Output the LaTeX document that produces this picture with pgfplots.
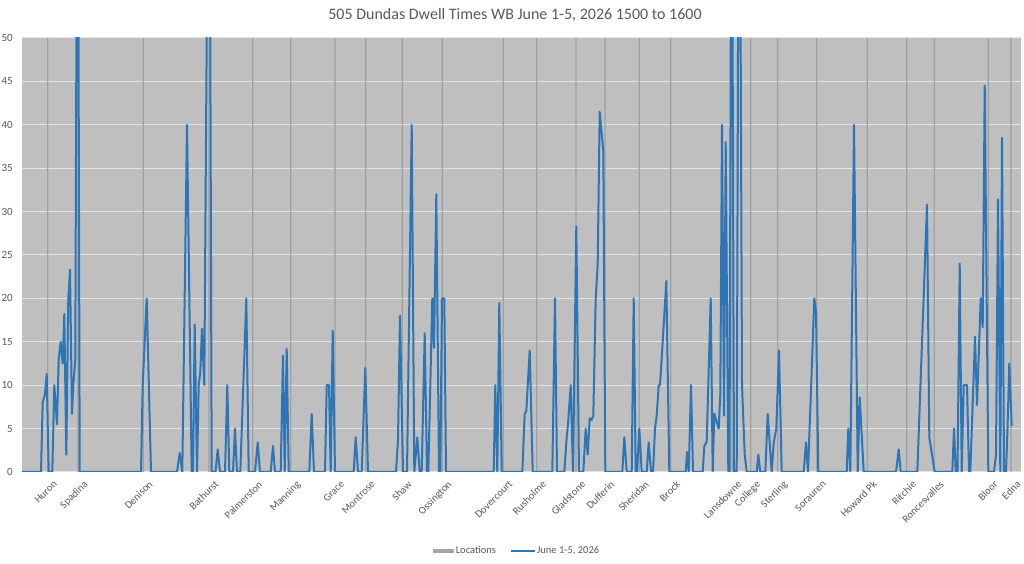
\documentclass[border=0pt]{standalone}
\usepackage{fontspec}
\setmainfont{Carlito}
\usepackage{pgfplots}
\pgfplotsset{compat=1.18}
\definecolor{bgc}{HTML}{BFBFBF}
\definecolor{gridc}{HTML}{E4E4E4}
\definecolor{locc}{HTML}{A0A0A0}
\definecolor{locleg}{HTML}{A5A5A5}
\definecolor{linec}{HTML}{2E75B6}
\definecolor{labc}{HTML}{595959}
\begin{document}
\begin{tikzpicture}
\useasboundingbox (0,0) rectangle (1024pt,564pt);
\fill[white] (0,0) rectangle (1024pt,564pt);
\node[text=labc, font=\fontsize{16}{19}\selectfont] at (515pt,549pt) {505 Dundas Dwell Times WB June 1-5, 2026 1500 to 1600};
\begin{axis}[
  at={(22pt,92pt)}, anchor=south west,
  scale only axis, width=999pt, height=434pt,
  xmin=22, xmax=1021, ymin=0, ymax=50,
  axis background/.style={fill=bgc},
  axis line style={draw=none},
  major tick length=0pt,
  ytick={0,5,...,50},
  ymajorgrids, grid style={gridc, line width=1pt},
  /pgf/number format/assume math mode=true,
  yticklabel style={font=\fontsize{11}{13}\selectfont, text=labc, inner sep=0pt, xshift=-9pt},
  xtick={47.7,78,143.3,209,252.7,290.7,335,365.7,402.3,442.3,503.3,536.7,576,605,639.3,670.7,732,750.7,777.7,816.7,867.3,906.7,934.3,988.3,1011},
  xticklabels={Huron,Spadina,Denison,Bathurst,Palmerston,Manning,Grace,Montrose,Shaw,Ossington,Dovercourt,Rusholme,Gladstone,Dufferin,Sheridan,Brock,Lansdowne,College,Sterling,Sorauren,Howard Pk,Ritchie,Roncesvalles,Bloor,Edna},
  xticklabel style={rotate=45, anchor=north east, font=\fontsize{10.5}{12}\selectfont, text=labc, inner sep=1pt, xshift=-1pt, yshift=-8pt},
  legend columns=2,
  legend style={at={(0.4955,-0.182)}, anchor=center, draw=none, fill=none,
    font=\fontsize{10.5}{12}\selectfont, text=labc,
    nodes={inner sep=1.5pt},
    /tikz/every even column/.append style={column sep=12pt}},
]
\addplot[ybar, bar width=1.3pt, fill=locc, draw=none,
  legend image code/.code={\fill[locleg] (0pt,-2.3pt) rectangle (21pt,2.3pt);}]
  coordinates {(47.7,50) (78,50) (143.3,50) (209,50) (252.7,50) (290.7,50) (335,50) (365.7,50) (402.3,50) (442.3,50) (503.3,50) (536.7,50) (576,50) (605,50) (639.3,50) (670.7,50) (732,50) (750.7,50) (777.7,50) (816.7,50) (867.3,50) (906.7,50) (934.3,50) (988.3,50) (1011,50)};
\addlegendentry{Locations}
\addplot[linec, line width=2pt, line join=round, mark=none,
  legend image code/.code={\draw[linec, line width=2pt] (0pt,0pt) -- (24pt,0pt);}]
  coordinates {
(22,0) (41,0) (42.7,8) (45,9) (46.7,11.3) (48.7,0) (52.3,0) (54.3,10) (57,5.5) (58.7,13) (60.7,15) (62.7,12.5) (64.3,18.2) (66.3,2) (68.3,20) (70,23.3) (72,6.7) (73.3,10) (75.3,13) (76.7,60) (78.3,60) (79.7,0)
(141,0) (142.7,10) (146.7,20) (151,0) (177,0) (179.7,2.2) (182.3,0) (187,40) (191.7,0) (193,0) (194.7,17) (197,0) (198.7,10) (200.3,11.5) (202,16.5) (204.3,10) (207.3,60) (210,60) (211.7,0)
(215.5,0) (217.7,2.6) (220,0) (225,0) (227.3,10) (229.3,0) (233,0) (235,5) (237,0) (240.3,0) (246.3,20) (248.7,0) (255,0) (257.7,3.4) (260,0) (270.7,0) (273,3) (275,0) (280.7,0) (283,13.4) (284.7,0) (286.7,14.2) (288.7,0)
(309.3,0) (311.7,6.7) (314,0) (325,0) (326.7,10) (329,10) (330.7,0) (332.7,16.3) (335,0) (353.7,0) (355.7,4) (358,0) (361.7,0) (365.3,12) (368,0)
(396,0) (398,3.7) (400,18) (403,0) (407,0) (411.7,40) (414.3,0) (417.3,4) (419.7,0) (421.7,0) (424.7,16) (427,0) (428.3,0) (432.3,20) (434,14.3) (436.3,32) (439,0) (440.3,0) (442,20) (444.3,20) (446,0)
(493.7,0) (495.3,10) (497.3,0) (499.3,19.5) (501.7,0) (522.3,0) (524.7,6.7) (526.3,7) (529.7,14) (532.7,0) (552.3,0) (555,20) (557,0) (564.3,0) (566.7,4) (568,5.5) (570.7,10) (573,0) (576.3,28.3) (579,0)
(583.3,0) (585.7,5) (587.7,2) (589.7,6.2) (591.7,6) (593.3,6.5) (595.7,20) (597.7,24) (599.7,41.5) (603.3,37) (605.3,0) (622.3,0) (624.3,4) (626.7,0) (631.7,0) (633.7,20) (635.7,0) (637,0) (639.3,5) (641.7,0)
(646.7,0) (648.7,3.4) (651,0) (653,0) (655,5) (656.7,6.5) (658.7,10) (660,10) (662.7,15) (666.3,22) (669.3,0) (685.7,0) (687,2.3) (688.7,0) (691,10) (693,0)
(702.7,0) (704.3,3) (706.7,3.5) (710.7,20) (712.7,0) (714.3,6.7) (718.7,5) (720.3,9) (722,40) (724,6.5) (725.7,38) (728.3,0) (729.5,0) (731,60) (732.3,60) (734,0) (736.7,0) (738.3,60) (740.3,60) (742,10) (744.7,2) (746.7,0)
(756.7,0) (758.3,2) (760.3,0) (765.3,0) (767.7,6.7) (771.7,0) (773.7,3.4) (776.3,5) (779,14) (781.7,0) (803.7,0) (806,3.4) (808,0) (814.3,20) (816,18.5) (818.3,0)
(846.7,0) (848.3,5) (850.3,0) (854,40) (857.7,0) (859.7,8.6) (863.7,0) (896,0) (898.7,2.6) (900.7,0) (917.3,0) (927,30.8) (929.3,4) (934.7,0)
(952.3,0) (954,5) (955.7,0) (957.5,0) (959.7,24) (961.7,0) (963.7,10) (967,10) (969,0) (970.3,0) (975,15.6) (977,7.7) (980.7,20) (982.7,16.7) (984.7,44.5) (988.3,0)
(994,0) (996,2) (998,31.4) (1000.3,0) (1002,38.5) (1004,0) (1006,0) (1007.5,5) (1009.3,12.5) (1011.7,5.3)
  };
\addlegendentry{June 1-5, 2026}
\end{axis}
\end{tikzpicture}
\end{document}
